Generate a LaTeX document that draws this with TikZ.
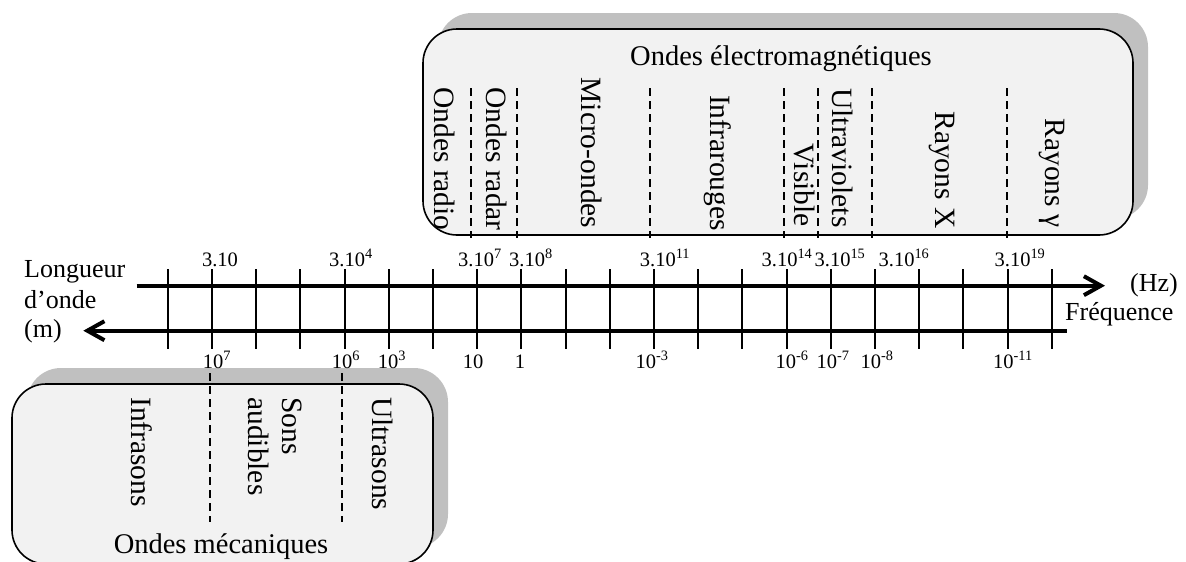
\documentclass[tikz,border=0pt]{standalone}
\usepackage{fontspec}
\setmainfont{Liberation Serif}
\usetikzlibrary{arrows.meta}
\definecolor{boxfill}{HTML}{F2F2F2}
\definecolor{shade}{HTML}{C0C0C0}
\tikzset{
  axis/.style={line width=4pt,-{Straight Barb[length=17pt,width=19pt]}},
  tick/.style={line width=2pt},
  sep/.style={line width=1.5pt,dash pattern=on 8pt off 5pt},
  wavebox/.style={draw=black,line width=1.6pt,fill=boxfill,rounded corners=34pt},
  shadowbox/.style={fill=shade,rounded corners=34pt},
  band/.style={rotate=-90,font=\fontsize{29.5}{34}\selectfont,inner sep=0pt},
  freqlab/.style={anchor=base,font=\fontsize{20.5}{24}\selectfont,inner sep=0pt},
  boxtitle/.style={anchor=base,font=\fontsize{28.5}{33}\selectfont,inner sep=0pt},
  side/.style={anchor=base west,font=\fontsize{26}{30}\selectfont,inner sep=0pt}
}
\begin{document}
\begin{tikzpicture}[x=1pt,y=-1pt]
  \useasboundingbox (0,0) rectangle (1186,562);

  % electromagnetic box
  \fill[shadowbox] (438,13) rectangle (1148,219);
  \draw[wavebox] (423,29) rectangle (1133,235);
  \foreach \x in {471,517,650,784,818,872,1007}
    \draw[sep] (\x,88) -- (\x,238);
  \node[boxtitle] (emtitle) at (781,65) {Ondes électromagnétiques};
  \node[band] (radio) at (445,159) {Ondes radio};
  \node[band] (radar) at (497,159) {Ondes radar};
  \node[band] (micro) at (592,153) {Micro-ondes};
  \node[band] (ir) at (718,163) {Infrarouges};
  \node[band] (vis) at (805,185) {Visible};
  \node[band] (uv) at (843,158) {Ultraviolets};
  \node[band] (xray) at (942,170) {Rayons X};
  \node[band] (gamma) at (1052,173) {Rayons γ};

  % mechanical box
  \fill[shadowbox] (27,368) rectangle (448,548);
  \draw[wavebox] (12,384) rectangle (433,564);
  \foreach \x in {210,342}
    \draw[sep] (\x,373) -- (\x,522);
  \node[boxtitle] (mectitle) at (221,553) {Ondes mécaniques};
  \node[band,anchor=west] (infra) at (142,397) {Infrasons};
  \node[band,anchor=west,align=left] (audible) at (275,397) {Sons\\audibles};
  \node[band,anchor=west] (ultra) at (383,397) {Ultrasons};

  % the two axes
  \coordinate (fstart) at (136.7,285.7);
  \coordinate (fend) at (1105,285.7);
  \coordinate (lstart) at (1066.7,330.7);
  \coordinate (lend) at (83.3,330.7);
  \draw[axis] (fstart) -- (fend);
  \draw[axis] (lstart) -- (lend);
  \foreach \i in {0,...,20}
    \draw[tick] ({167.7+44.2*\i},269.3) -- ({167.7+44.2*\i},349);

  % frequencies (Hz)
  \foreach \x/\t [count=\k] in {220/3.10, 351/3.10\textsuperscript{4},
      480/3.10\textsuperscript{7}, 531/3.10\textsuperscript{8},
      665/3.10\textsuperscript{11}, 787/3.10\textsuperscript{14},
      840/3.10\textsuperscript{15}, 904/3.10\textsuperscript{16},
      1020/3.10\textsuperscript{19}}
    \node[freqlab] (f\k) at (\x,266) {\t};
  % wavelengths (m)
  \foreach \x/\t [count=\k] in {217/10\textsuperscript{7}, 346/10\textsuperscript{6},
      392/10\textsuperscript{3}, 473/10, 520/1, 652/10\textsuperscript{-3},
      792/10\textsuperscript{-6}, 833/10\textsuperscript{-7},
      877/10\textsuperscript{-8}, 1013/10\textsuperscript{-11}}
    \node[freqlab] (w\k) at (\x,368) {\t};

  \node[side] (lg1) at (24,277) {Longueur};
  \node[side] (lg2) at (24,308) {d’onde};
  \node[side] (lg3) at (24,337) {(m)};
  \node[side] (hz) at (1130,291.7) {(Hz)};
  \node[side] (freq) at (1065,320) {Fréquence};
\end{tikzpicture}
\end{document}
